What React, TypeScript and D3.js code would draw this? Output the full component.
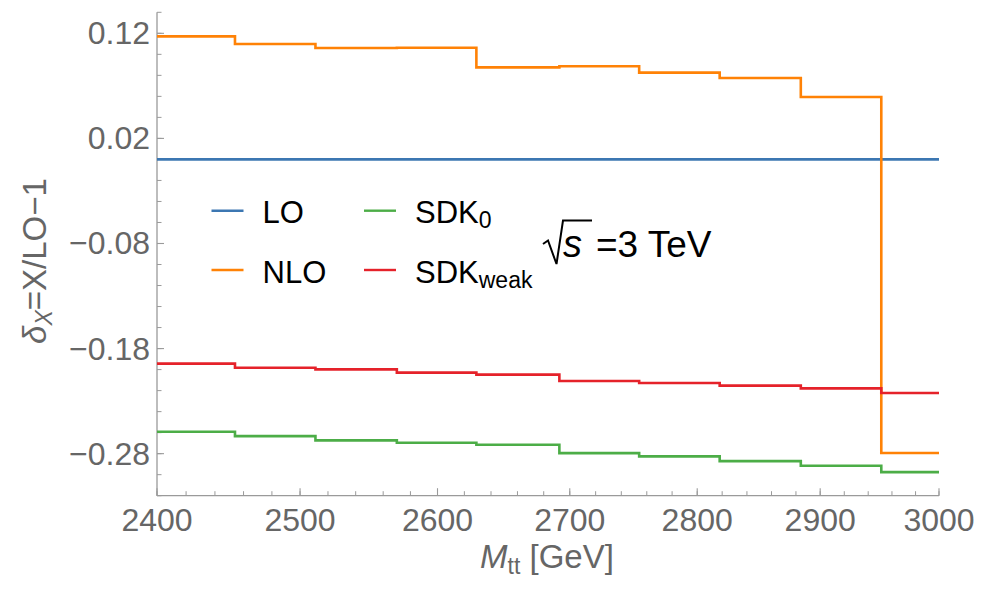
import React from "react";
import * as d3 from "d3";

const binEdges = [2400, 2454, 2511, 2570, 2629, 2692, 2754, 2818, 2884, 2951, 3000];
const seriesLO = [0, 0, 0, 0, 0, 0, 0, 0, 0, 0];
const seriesNLO = [0.1171, 0.1098, 0.106, 0.1063, 0.0876, 0.0886, 0.0826, 0.0775, 0.0594, -0.2794];
const seriesSDK0 = [-0.2591, -0.2633, -0.2674, -0.2696, -0.2715, -0.2795, -0.2826, -0.2871, -0.2915, -0.2976];
const seriesSDKweak = [-0.1943, -0.1982, -0.1998, -0.2029, -0.2048, -0.2109, -0.2128, -0.2153, -0.2179, -0.2223];
const xTicks = [2400, 2500, 2600, 2700, 2800, 2900, 3000];
const yTicks = [0.12, 0.02, -0.08, -0.18, -0.28];
const yTickLabels = ["0.12", "0.02", "\u22120.08", "\u22120.18", "\u22120.28"];

const W = 982, H = 589;
const x = d3.scaleLog().domain([2400, 3000]).range([157, 939]);
const y = d3.scaleLinear().domain([-0.32, 0.14]).range([495.7, 12.3]);

const colors = { LO: "#3c77b2", NLO: "#ff8206", SDK0: "#4cad47", SDKweak: "#e5222a" };

const stepLine = d3
  .line<[number, number]>()
  .x((d) => x(d[0]))
  .y((d) => y(d[1]))
  .curve(d3.curveStepAfter);

function pts(vals: number[]): [number, number][] {
  const p: [number, number][] = vals.map((v, i) => [binEdges[i], v]);
  p.push([binEdges[binEdges.length - 1], vals[vals.length - 1]]);
  return p;
}

const xMinor: number[] = d3.range(2400, 3001, 20);
const yMinor: number[] = d3.range(-32, 15, 2).map((v) => v / 100);

export default function App() {
  const font = "'Liberation Sans', Arial, sans-serif";
  const gray = "#666666";
  const axisCol = "#9a9a9a";
  return (
    <svg width={W} height={H} style={{ position: "absolute", left: 0, top: 0, background: "#fff" }} fontFamily={font}>
      {/* axes */}
      <line x1={157} x2={157} y1={y(0.14)} y2={y(-0.32)} stroke={axisCol} strokeWidth={1.3} />
      <line x1={157} x2={939} y1={y(-0.32)} y2={y(-0.32)} stroke={axisCol} strokeWidth={1.3} />
      {yMinor.map((v, i) => (
        <line key={"ym" + i} x1={157} x2={161.5} y1={y(v)} y2={y(v)} stroke={axisCol} strokeWidth={1} />
      ))}
      {yTicks.map((v, i) => (
        <line key={"yM" + i} x1={157} x2={164} y1={y(v)} y2={y(v)} stroke={axisCol} strokeWidth={1.1} />
      ))}
      {xMinor.map((v, i) => (
        <line key={"xm" + i} x1={x(v)} x2={x(v)} y1={y(-0.32)} y2={y(-0.32) - 4.5} stroke={axisCol} strokeWidth={1} />
      ))}
      {xTicks.map((v, i) => (
        <line key={"xM" + i} x1={x(v)} x2={x(v)} y1={y(-0.32)} y2={y(-0.32) - 7.5} stroke={axisCol} strokeWidth={1.1} />
      ))}
      {yTicks.map((v, i) => (
        <text key={"yl" + i} x={150} y={y(v) + 11} textAnchor="end" fontSize={32} fill={gray}>
          {yTickLabels[i]}
        </text>
      ))}
      {xTicks.map((v, i) => (
        <text key={"xl" + i} x={x(v)} y={530.5} textAnchor="middle" fontSize={32} fill={gray}>
          {v}
        </text>
      ))}
      {/* axis labels */}
      <text x={547} y={568} textAnchor="middle" fontSize={33} fill={gray}>
        <tspan fontStyle="italic">M</tspan>
        <tspan fontSize={23} dy={6}>tt</tspan>
        <tspan dy={-6}> [GeV]</tspan>
      </text>
      <text transform="translate(46,261) rotate(-90)" textAnchor="middle" fontSize={33} fill={gray}>
        <tspan fontStyle="italic">δ</tspan>
        <tspan fontSize={23} dy={6} fontStyle="italic">X</tspan>
        <tspan dy={-6}>=X/LO−1</tspan>
      </text>
      {/* data */}
      <g fill="none" strokeWidth={2.6}>
        <path d={stepLine(pts(seriesLO)) || ""} stroke={colors.LO} />
        <path d={stepLine(pts(seriesNLO)) || ""} stroke={colors.NLO} />
        <path d={stepLine(pts(seriesSDK0)) || ""} stroke={colors.SDK0} />
        <path d={stepLine(pts(seriesSDKweak)) || ""} stroke={colors.SDKweak} />
      </g>
      {/* legend */}
      <g fontSize={31} fill="#000">
        <line x1={211.5} x2={243.5} y1={210.7} y2={210.7} stroke={colors.LO} strokeWidth={2.4} />
        <text x={262.5} y={223.3}>LO</text>
        <line x1={211.5} x2={243.5} y1={270} y2={270} stroke={colors.NLO} strokeWidth={2.4} />
        <text x={262.5} y={282.7}>NLO</text>
        <line x1={364} x2={396} y1={210.7} y2={210.7} stroke={colors.SDK0} strokeWidth={2.4} />
        <text x={415} y={223.3}>
          SDK<tspan fontSize={23} dy={5}>0</tspan>
        </text>
        <line x1={364} x2={396} y1={270} y2={270} stroke={colors.SDKweak} strokeWidth={2.4} />
        <text x={415} y={282.7}>
          SDK<tspan fontSize={23} dy={5}>weak</tspan>
        </text>
      </g>
      {/* sqrt s */}
      <path d="M543,244 L548,240.5 L556.5,264 L563,220.5 L592,220.5" fill="none" stroke="#000" strokeWidth={2} />
      <text x={563} y={257} fontSize={38} fontStyle="italic" fill="#000">s</text>
      <text x={596} y={257} fontSize={37} fill="#000">=3 TeV</text>
    </svg>
  );
}
